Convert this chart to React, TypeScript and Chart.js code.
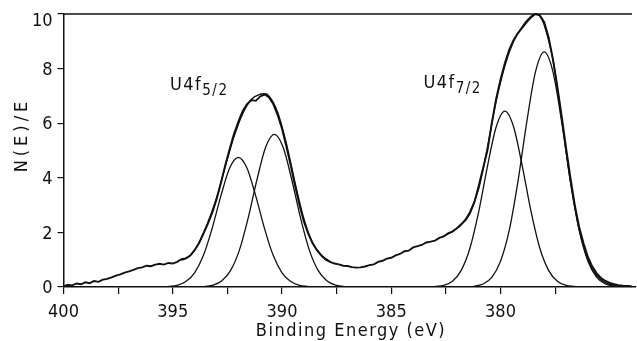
import React, { useEffect, useRef } from "react";
import { Chart, registerables } from "chart.js";

Chart.register(...registerables);

const FONT = "'Liberation Sans Narrow', 'DejaVu Sans Condensed', 'Liberation Sans', sans-serif";
const INK = "#111111";

// X axis ticks (binding energy, eV) – labels only on multiples of 5
const X_TICKS = [400, 397.5, 395, 392.5, 390, 387.5, 385, 382.5, 380, 377.5];
const X_MIN = 373.8;
const X_MAX = 400;
const Y_TICKS = [0, 2, 4, 6, 8, 10];

// Measured spectrum N(E)/E
const spectrumBE = [
  400.0, 399.8, 399.6, 399.4, 399.2, 399.0, 398.8, 398.6, 398.4, 398.2,
  398.0, 397.8, 397.6, 397.4, 397.2, 397.0, 396.8, 396.6, 396.4, 396.2,
  396.0, 395.8, 395.6, 395.4, 395.2, 395.0, 394.8, 394.6, 394.4, 394.2,
  394.0, 393.8, 393.6, 393.4, 393.2, 393.0, 392.8, 392.6, 392.4, 392.2,
  392.0, 391.8, 391.6, 391.4, 391.2, 391.0, 390.8, 390.6, 390.4, 390.2,
  390.0, 389.8, 389.6, 389.4, 389.2, 389.0, 388.8, 388.6, 388.4, 388.2,
  388.0, 387.8, 387.6, 387.4, 387.2, 387.0, 386.8, 386.6, 386.4, 386.2,
  386.0, 385.8, 385.6, 385.4, 385.2, 385.0, 384.8, 384.6, 384.4, 384.2,
  384.0, 383.8, 383.6, 383.4, 383.2, 383.0, 382.8, 382.6, 382.4, 382.2,
  382.0, 381.8, 381.6, 381.4, 381.2, 381.0, 380.8, 380.6, 380.4, 380.2,
  380.0, 379.8, 379.6, 379.4, 379.2, 379.0, 378.8, 378.6, 378.4, 378.2,
  378.0, 377.8, 377.6, 377.4, 377.2, 377.0, 376.8, 376.6, 376.4, 376.2,
  376.0, 375.8, 375.6, 375.4, 375.2, 375.0, 374.8, 374.6, 374.4, 374.2,
  374.0,
];
const spectrumNE = [
  0.02, 0.08, 0.06, 0.13, 0.10, 0.17, 0.14, 0.22, 0.19, 0.27,
  0.30, 0.35, 0.42, 0.46, 0.53, 0.57, 0.63, 0.69, 0.72, 0.78,
  0.76, 0.82, 0.85, 0.82, 0.88, 0.86, 0.92, 1.02, 1.05, 1.15,
  1.35, 1.60, 1.95, 2.30, 2.70, 3.20, 3.80, 4.45, 5.05, 5.60,
  6.05, 6.45, 6.70, 6.85, 6.82, 6.98, 7.05, 6.95, 6.70, 6.30,
  5.80, 5.15, 4.45, 3.70, 3.00, 2.40, 1.95, 1.60, 1.35, 1.15,
  1.00, 0.92, 0.86, 0.83, 0.78, 0.77, 0.73, 0.71, 0.72, 0.75,
  0.80, 0.83, 0.92, 0.96, 1.04, 1.07, 1.16, 1.21, 1.31, 1.33,
  1.45, 1.50, 1.54, 1.63, 1.66, 1.70, 1.80, 1.85, 1.97, 2.03,
  2.15, 2.30, 2.45, 2.70, 3.10, 3.70, 4.35, 5.00, 6.00, 6.90,
  7.60, 8.20, 8.70, 9.05, 9.30, 9.50, 9.70, 9.88, 10.0, 9.95,
  9.70, 9.15, 8.35, 7.35, 6.25, 5.10, 4.00, 3.00, 2.20, 1.60,
  1.10, 0.75, 0.50, 0.33, 0.22, 0.15, 0.10, 0.07, 0.05, 0.04,
  0.03,
];

// Fitted envelopes
const fit52BE = [394.6, 394.2, 393.8, 393.4, 393.0, 392.6, 392.2, 391.8, 391.4, 391.0, 390.8, 390.6, 390.2, 389.8, 389.4, 389.0, 388.6, 388.2, 387.8];
const fit52NE = [0.98, 1.15, 1.62, 2.35, 3.25, 4.40, 5.50, 6.35, 6.88, 7.06, 7.08, 7.00, 6.40, 5.25, 3.80, 2.50, 1.62, 1.17, 0.93];
const fit72BE = [382.6, 382.2, 381.8, 381.4, 381.0, 380.6, 380.2, 379.8, 379.4, 379.0, 378.6, 378.4, 378.2, 378.0, 377.6, 377.2, 376.8, 376.4, 376.0, 375.6, 375.2, 374.8, 374.4];
const fit72NE = [1.86, 2.04, 2.28, 2.75, 3.60, 5.10, 6.80, 8.10, 9.00, 9.55, 9.92, 10.0, 9.92, 9.60, 8.30, 6.15, 3.85, 2.10, 1.00, 0.42, 0.16, 0.06, 0.02];

// Fitted components
const compABE = [395.2, 394.8, 394.4, 394.0, 393.6, 393.2, 392.8, 392.4, 392.0, 391.6, 391.2, 390.8, 390.4, 390.0, 389.6, 389.2, 388.8];
const compANE = [0.02, 0.06, 0.20, 0.52, 1.15, 2.14, 3.33, 4.35, 4.75, 4.35, 3.33, 2.14, 1.15, 0.52, 0.20, 0.06, 0.02];
const compBBE = [393.55, 393.15, 392.75, 392.35, 391.95, 391.55, 391.15, 390.75, 390.35, 389.95, 389.55, 389.15, 388.75, 388.35, 387.95, 387.55, 387.15];
const compBNE = [0.02, 0.07, 0.23, 0.61, 1.35, 2.52, 3.92, 5.12, 5.59, 5.12, 3.92, 2.52, 1.35, 0.61, 0.23, 0.07, 0.02];
const compCBE = [383.0, 382.6, 382.2, 381.8, 381.4, 381.0, 380.6, 380.2, 379.8, 379.4, 379.0, 378.6, 378.2, 377.8, 377.4, 377.0, 376.6];
const compCNE = [0.02, 0.06, 0.21, 0.61, 1.42, 2.75, 4.41, 5.86, 6.44, 5.86, 4.41, 2.75, 1.42, 0.61, 0.21, 0.06, 0.02];
const compDBE = [381.2, 380.8, 380.4, 380.0, 379.6, 379.2, 378.8, 378.4, 378.0, 377.6, 377.2, 376.8, 376.4, 376.0, 375.6, 375.2, 374.8];
const compDNE = [0.03, 0.11, 0.35, 0.94, 2.08, 3.88, 6.04, 7.88, 8.61, 7.88, 6.04, 3.88, 2.08, 0.94, 0.35, 0.11, 0.03];

// Peak labels (position in data units)
const PEAK_LABELS = [
  { main: "U4f", sub: "5/2", be: 395.13, v: 7.22 },
  { main: "U4f", sub: "7/2", be: 383.53, v: 7.28 },
];
const X_TITLE = "Binding Energy (eV)";
const Y_TITLE = "N(E)/E";

const zip = (xs: number[], ys: number[]) => xs.map((x, i) => ({ x, y: ys[i] }));

export default function App() {
  const ref = useRef<HTMLCanvasElement>(null);

  useEffect(() => {
    document.body.style.margin = "0";
    const canvas = ref.current!;

    const overlay = {
      id: "overlay",
      beforeDraw(chart: any) {
        chart.ctx.letterSpacing = "0px";
      },
      afterDraw(chart: any) {
        const { ctx, chartArea, scales } = chart;
        ctx.save();
        // top frame line
        ctx.strokeStyle = INK;
        ctx.lineWidth = 1.5;
        ctx.beginPath();
        ctx.moveTo(chartArea.left, chartArea.top);
        ctx.lineTo(chartArea.right - 4, chartArea.top);
        ctx.stroke();

        ctx.fillStyle = INK;
        ctx.font = `18px ${FONT}`;

        // y tick labels (top one sits just below the frame)
        ctx.letterSpacing = "0px";
        ctx.textAlign = "right";
        ctx.textBaseline = "middle";
        for (const t of Y_TICKS) {
          const py = scales.y.getPixelForValue(t) + (t === 10 ? 7 : 1.5);
          ctx.fillText(String(t), chartArea.left - 11, py);
        }

        // x title
        ctx.letterSpacing = "1.5px";
        ctx.textAlign = "center";
        ctx.textBaseline = "alphabetic";
        ctx.fillText(X_TITLE, 351, 336);

        // y title
        ctx.save();
        ctx.translate(26.5, 135);
        ctx.rotate(-Math.PI / 2);
        ctx.letterSpacing = "4px";
        ctx.fillText(Y_TITLE, 0, 0);
        ctx.restore();

        // peak labels
        ctx.textAlign = "left";
        for (const lab of PEAK_LABELS) {
          const px = scales.x.getPixelForValue(lab.be);
          const py = scales.y.getPixelForValue(lab.v);
          ctx.font = `18px ${FONT}`;
          ctx.letterSpacing = "1.5px";
          ctx.fillText(lab.main, px, py);
          const w = ctx.measureText(lab.main).width;
          ctx.font = `15px ${FONT}`;
          ctx.letterSpacing = "1.5px";
          ctx.fillText(lab.sub, px + w, py + 5);
        }
        ctx.restore();
      },
    };

    const thin = { borderColor: INK, borderWidth: 1.3, pointRadius: 0, cubicInterpolationMode: "monotone" as const, fill: false, clip: false as any };

    const chart = new Chart(canvas, {
      type: "line",
      data: {
        datasets: [
          { ...thin, data: zip(compABE, compANE) },
          { ...thin, data: zip(compBBE, compBNE) },
          { ...thin, data: zip(compCBE, compCNE) },
          { ...thin, data: zip(compDBE, compDNE) },
          { ...thin, borderWidth: 1.4, data: zip(fit52BE, fit52NE) },
          { ...thin, borderWidth: 1.4, data: zip(fit72BE, fit72NE) },
          { borderColor: INK, borderWidth: 1.9, pointRadius: 0, tension: 0, fill: false, clip: false as any, data: zip(spectrumBE, spectrumNE) },
        ],
      },
      options: {
        animation: false,
        responsive: false,
        devicePixelRatio: 1,
        layout: { padding: { top: 14, right: 1, left: 0, bottom: 0 } },
        plugins: { legend: { display: false }, tooltip: { enabled: false } },
        scales: {
          x: {
            type: "linear",
            reverse: true,
            min: X_MIN,
            max: X_MAX,
            afterBuildTicks: (axis: any) => {
              axis.ticks = X_TICKS.map((v) => ({ value: v }));
            },
            afterFit: (s: any) => {
              s.height = 54;
            },
            ticks: {
              autoSkip: false,
              maxRotation: 0,
              padding: 8,
              color: INK,
              font: { family: FONT, size: 18 },
              callback: (v: any) => (Number(v) % 5 === 0 ? String(v) : ""),
            },
            grid: { drawOnChartArea: false, drawTicks: true, tickLength: 7, color: INK, lineWidth: 1.2 },
            border: { display: true, color: INK, width: 1.5 },
          },
          y: {
            min: 0,
            max: 10,
            afterBuildTicks: (axis: any) => {
              axis.ticks = Y_TICKS.map((v) => ({ value: v }));
            },
            afterFit: (s: any) => {
              s.width = 63.5;
            },
            ticks: { display: false },
            grid: { drawOnChartArea: false, drawTicks: true, tickLength: 6, color: INK, lineWidth: 1.2 },
            border: { display: true, color: INK, width: 1.5 },
          },
        },
      },
      plugins: [overlay],
    });

    return () => chart.destroy();
  }, []);

  return (
    <div style={{ width: 637, height: 341, background: "#fff" }}>
      <canvas ref={ref} width={637} height={341} style={{ display: "block", width: 637, height: 341 }} />
    </div>
  );
}
